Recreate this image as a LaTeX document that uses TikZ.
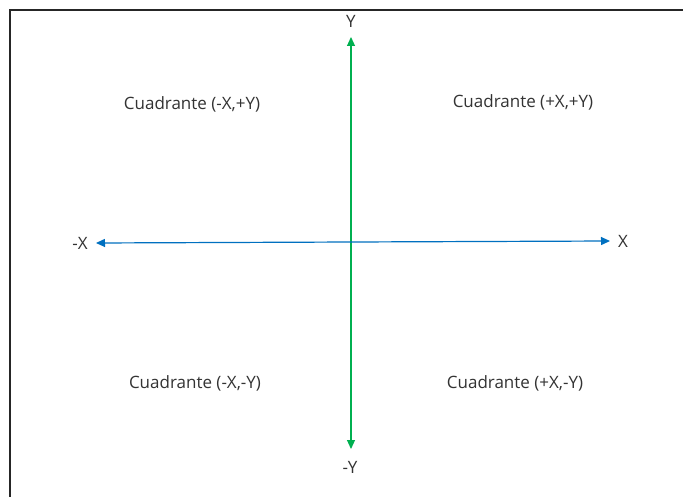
\documentclass[tikz,border=0pt]{standalone}
\usepackage{fontspec}
\setmainfont{Open Sans}
\usetikzlibrary{arrows.meta}
\definecolor{axgreen}{HTML}{00B050}
\definecolor{axblue}{HTML}{0070C0}
\definecolor{framegray}{HTML}{262626}
\tikzset{
  lbl/.style={inner sep=0pt, text=black!80, font=\fontsize{17}{19}\selectfont},
  axis/.style={line width=1.2pt, {Triangle[length=9pt,width=8pt]}-{Triangle[length=9pt,width=8pt]}},
}
\begin{document}
\begin{tikzpicture}[x=1pt,y=-1pt]
\useasboundingbox[fill=white] (0,0) rectangle (683,497);
\draw[framegray, line width=2pt] (10,497) -- (10,10) -- (683,10);
\coordinate (yt) at (351,37);
\coordinate (yb) at (351,449);
\coordinate (xl) at (96,243);
\coordinate (xr) at (610,241);
\draw[axis, axgreen] (yb) -- (yt);
\draw[axis, axblue] (xl) -- (xr);
\node[lbl] (Y) at (351,21) {Y};
\node[lbl] (nY) at (350,467) {-Y};
\node[lbl] (nX) at (80,243) {-X};
\node[lbl] (X) at (623,241) {X};
\node[lbl] (q2) at (192,104) {Cuadrante (-X,+Y)};
\node[lbl] (q1) at (523,102) {Cuadrante (+X,+Y)};
\node[lbl] (q3) at (195,383) {Cuadrante (-X,-Y)};
\node[lbl] (q4) at (515,383) {Cuadrante (+X,-Y)};
\end{tikzpicture}
\end{document}
